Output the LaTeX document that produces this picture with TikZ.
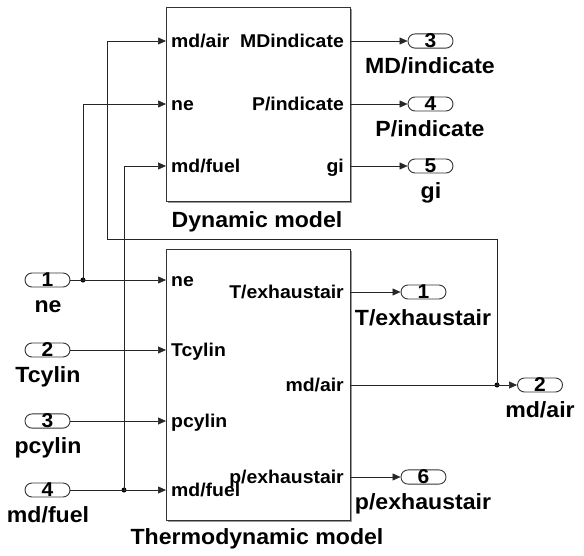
\documentclass[tikz,border=0pt]{standalone}
\usepackage{fontspec}
\setmainfont{Liberation Sans}[FakeStretch=1.05]
\usetikzlibrary{arrows.meta,positioning,shadows}

\begin{document}
\begin{tikzpicture}[x=1pt,y=-1pt,
block/.style={draw=black!80,line width=0.9pt,fill=white,
	drop shadow={shadow xshift=1.2pt,shadow yshift=-1.2pt,fill=black!40,opacity=1}},
wire/.style={draw=black!85,line width=0.6pt},
arr/.style={wire,-{Triangle[length=8pt,width=7pt]}},
term/.style={draw=black!80,line width=0.9pt,fill=white,rounded corners=7pt,
	minimum width=45pt,minimum height=14pt,inner sep=0pt,
	font=\fontsize{20}{20}\selectfont\bfseries},
plab/.style={font=\fontsize{18.5}{18.5}\selectfont\bfseries,inner sep=0pt},
tlab/.style={font=\fontsize{22}{22}\selectfont\bfseries,inner sep=0pt,anchor=base},
jdot/.style={circle,fill=black,inner sep=0pt,minimum size=5pt}]

\useasboundingbox (0,0) rectangle (584,555);

% Blocks
\node[block,minimum width=184pt,minimum height=194pt,anchor=north west] (dyn) at (166,7) {};
\node[block,minimum width=184pt,minimum height=271pt,anchor=north west] (thermo) at (166,249) {};
\node[tlab] (dynName) at (257,227) {Dynamic model};
\node[tlab] (thermoName) at (257,544) {Thermodynamic model};

% Port points
\coordinate (dynInA) at (166,41);
\coordinate (dynInB) at (166,104);
\coordinate (dynInC) at (166,166);
\coordinate (dynOutA) at (350,41);
\coordinate (dynOutB) at (350,104);
\coordinate (dynOutC) at (350,166);
\coordinate (thInA) at (166,280);
\coordinate (thInB) at (166,350);
\coordinate (thInC) at (166,421);
\coordinate (thInD) at (166,490);
\coordinate (thOutA) at (350,292);
\coordinate (thOutB) at (350,385);
\coordinate (thOutC) at (350,477);

% Port labels
\node[plab,anchor=base west] (pDynA) at (171,47) {md/air};
\node[plab,anchor=base west] (pDynB) at (171,110) {ne};
\node[plab,anchor=base west] (pDynC) at (171,172) {md/fuel};
\node[plab,anchor=base east] (pDynD) at (344,47) {MDindicate};
\node[plab,anchor=base east] (pDynE) at (344,110) {P/indicate};
\node[plab,anchor=base east] (pDynF) at (344,172) {gi};
\node[plab,anchor=base west] (pThA) at (171,286) {ne};
\node[plab,anchor=base west] (pThB) at (171,356) {Tcylin};
\node[plab,anchor=base west] (pThC) at (171,427) {pcylin};
\node[plab,anchor=base west] (pThD) at (171,496) {md/fuel};
\node[plab,anchor=base east] (pThE) at (344,298) {T/exhaustair};
\node[plab,anchor=base east] (pThF) at (344,391) {md/air};
\node[plab,anchor=base east] (pThG) at (344,483) {p/exhaustair};

% Inports
\node[term] (inNe) at (47.5,280) {1};
\node[term] (inTc) at (47.5,350) {2};
\node[term] (inPc) at (47.5,421) {3};
\node[term] (inFuel) at (47.5,490) {4};
\node[tlab] (inNeL) at (48,312) {ne};
\node[tlab] (inTcL) at (48,382) {Tcylin};
\node[tlab] (inPcL) at (48,453) {pcylin};
\node[tlab] (inFuelL) at (48,522) {md/fuel};

% Outports
\node[term] (outMd) at (430.5,41) {3};
\node[term] (outP) at (430.5,104) {4};
\node[term] (outGi) at (430.5,166) {5};
\node[term] (outT) at (423.5,292) {1};
\node[term] (outAir) at (540,385) {2};
\node[term] (outPex) at (423.5,477) {6};
\node[tlab] (outMdL) at (430,73) {MD/indicate};
\node[tlab] (outPL) at (430,136) {P/indicate};
\node[tlab] (outGiL) at (431,198) {gi};
\node[tlab] (outTL) at (423,325) {T/exhaustair};
\node[tlab] (outAirL) at (540,417) {md/air};
\node[tlab] (outPexL) at (423,509) {p/exhaustair};

% Junctions
\node[jdot] (jNe) at (83,280) {};
\node[jdot] (jFuel) at (124,490) {};
\node[jdot] (jAir) at (497,385) {};
\coordinate (bendA) at (497,239);
\coordinate (bendB) at (107,239);

% Connectors
\draw[arr] (inNe) -- (thInA);
\draw[arr] (inTc) -- (thInB);
\draw[arr] (inPc) -- (thInC);
\draw[arr] (inFuel) -- (thInD);
\draw[arr] (jNe.center) |- (dynInB);
\draw[arr] (jFuel.center) |- (dynInC);
\draw[arr] (jAir.center) -- (bendA) -- (bendB) |- (dynInA);
\draw[arr] (dynOutA) -- (outMd);
\draw[arr] (dynOutB) -- (outP);
\draw[arr] (dynOutC) -- (outGi);
\draw[arr] (thOutA) -- (outT);
\draw[arr] (thOutB) -- (outAir);
\draw[arr] (thOutC) -- (outPex);

\end{tikzpicture}
\end{document}
